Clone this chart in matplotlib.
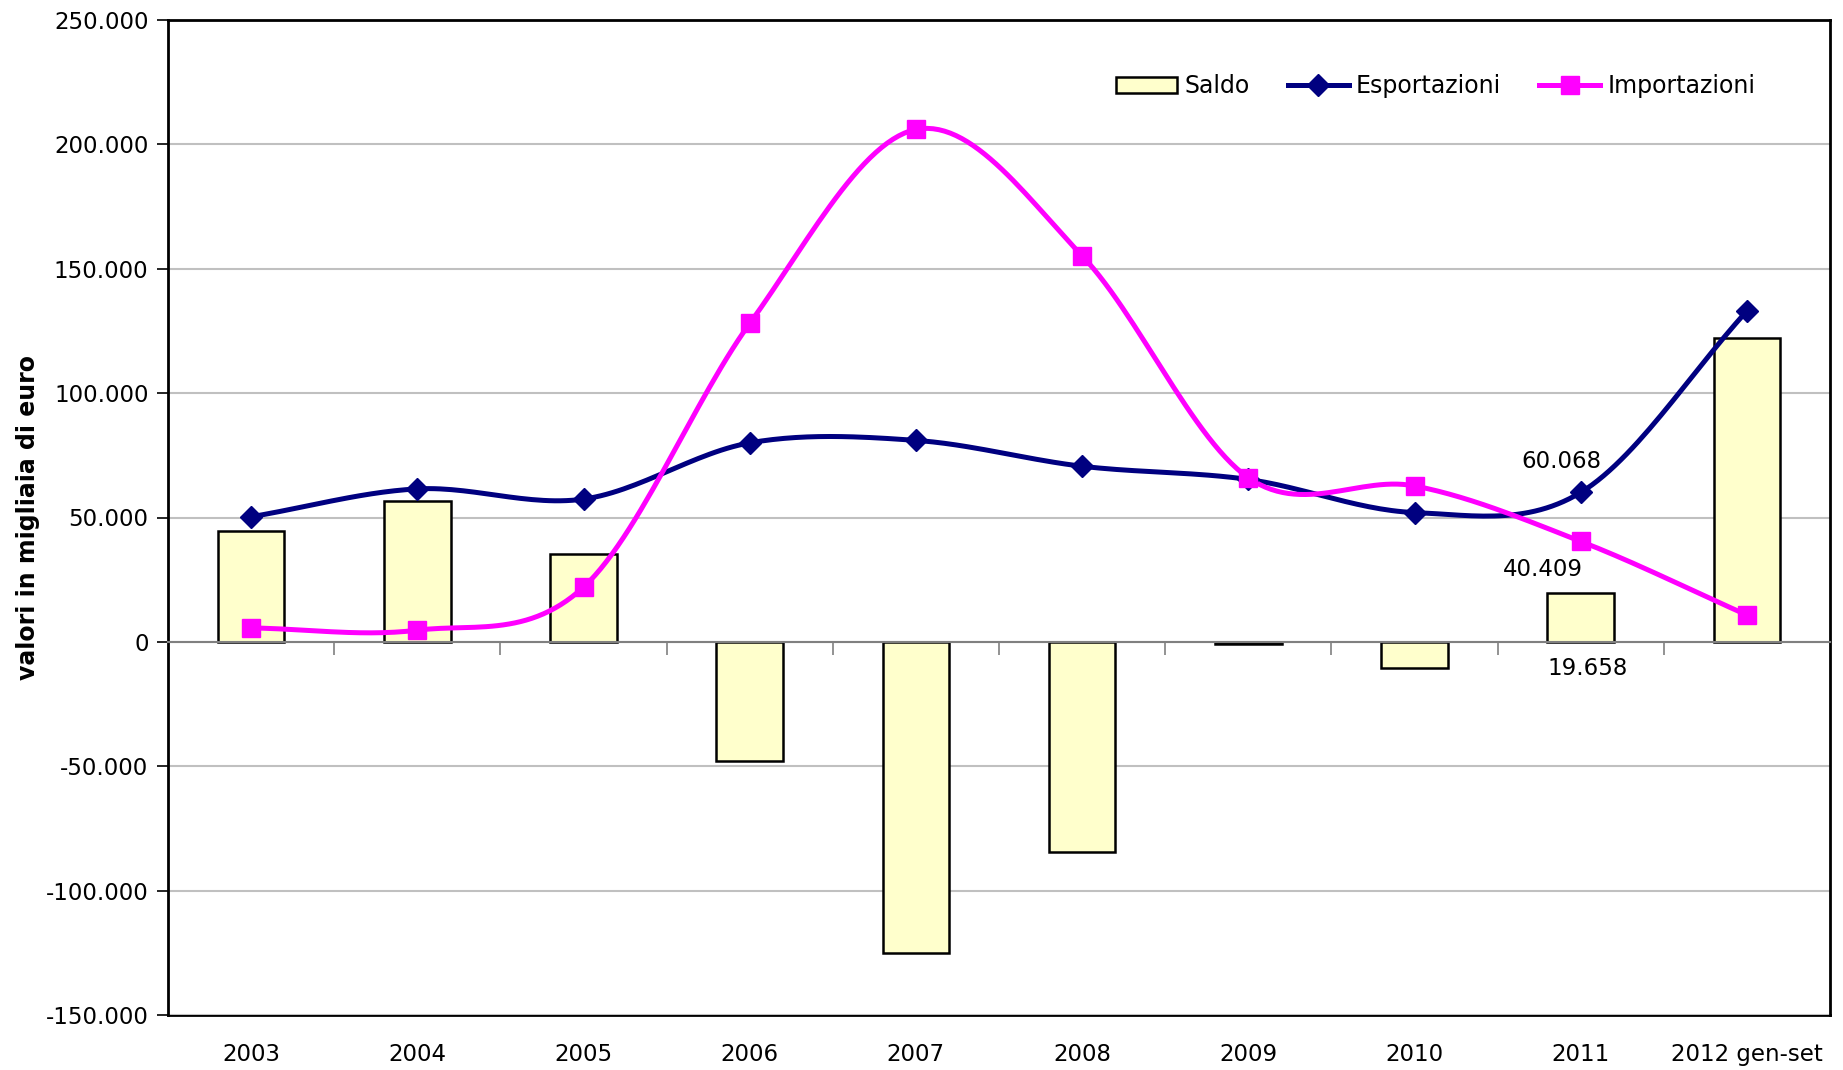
import numpy as np
import matplotlib.pyplot as plt
from matplotlib.ticker import FuncFormatter, FixedLocator

anni = ['2003', '2004', '2005', '2006', '2007', '2008', '2009', '2010', '2011', '2012 gen-set']
esportazioni = [50300, 61500, 57400, 80000, 81000, 70600, 65300, 52000, 60068, 133000]
importazioni = [5600, 4700, 22000, 128000, 206000, 155200, 66000, 62700, 40409, 10800]
saldo = [44700, 56800, 35400, -48000, -125000, -84600, -700, -10700, 19658, 122200]


def fmt_it(v, pos=None):
    return f"{v:,.0f}".replace(',', '.')


def smooth(x, y, n=30):
    # catmull-rom, come le linee "smussate" di Excel
    x = np.asarray(x, float)
    y = np.asarray(y, float)
    px = np.concatenate([[2*x[0]-x[1]], x, [2*x[-1]-x[-2]]])
    py = np.concatenate([[2*y[0]-y[1]], y, [2*y[-1]-y[-2]]])
    xs, ys = [], []
    t = np.linspace(0, 1, n)
    for i in range(1, len(px)-2):
        for p, out in ((px, xs), (py, ys)):
            p0, p1, p2, p3 = p[i-1], p[i], p[i+1], p[i+2]
            out.extend(0.5*((2*p1) + (-p0+p2)*t + (2*p0-5*p1+4*p2-p3)*t**2 + (-p0+3*p1-3*p2+p3)*t**3))
    return np.array(xs), np.array(ys)


plt.rcParams['font.family'] = ['DejaVu Sans']
fig = plt.figure(figsize=(18.43, 10.70), dpi=100)
ax = fig.add_axes([168/1843, 55/1070, 1662/1843, 995/1070])

x = np.arange(len(anni))
b = ax.bar(x, saldo, width=0.4, color='#FFFFCC', edgecolor='black', linewidth=1.8,
           label='Saldo', zorder=2)

sx, sy = smooth(x, esportazioni)
ax.plot(sx, sy, color='#000080', lw=3.6, zorder=3)
ax.plot(x, esportazioni, ls='none', marker='D', ms=11, color='#000080', zorder=4)
le, = ax.plot([], [], color='#000080', lw=3.6, marker='D', ms=11, label='Esportazioni')

sx, sy = smooth(x, importazioni)
ax.plot(sx, sy, color='#FF00FF', lw=3.6, zorder=3)
ax.plot(x, importazioni, ls='none', marker='s', ms=13, color='#FF00FF', zorder=4)
li, = ax.plot([], [], color='#FF00FF', lw=3.6, marker='s', ms=13, label='Importazioni')

ax.set_xlim(-0.5, len(anni) - 0.5)
ax.set_ylim(-150000, 250000)
ax.yaxis.set_major_locator(FixedLocator(np.arange(-150000, 250001, 50000)))
ax.yaxis.set_major_formatter(FuncFormatter(fmt_it))
ax.grid(axis='y', color='#C0C0C0', lw=1.5, zorder=0)
ax.set_axisbelow(True)
ax.tick_params(axis='y', labelsize=16.5, length=8, width=1.2, direction='out', pad=6)

# asse categorie sullo zero, con tacche tra le categorie
ax.spines['bottom'].set_position(('data', 0))
ax.spines['bottom'].set_color('#808080')
ax.spines['bottom'].set_linewidth(1.5)
ax.set_xticks(x[:-1] + 0.5)
ax.set_xticklabels([])
ax.tick_params(axis='x', length=9, width=1.2, color='#808080', direction='out')
for s in ['left', 'top', 'right']:
    ax.spines[s].set_linewidth(2)

sec = ax.secondary_xaxis(0)
sec.set_xticks(x)
sec.set_xticklabels(anni, fontsize=16.5)
sec.tick_params(length=0, pad=20)
sec.spines['bottom'].set_linewidth(2)

ax.set_ylabel('valori in migliaia di euro', fontsize=17, fontweight='bold', labelpad=4)

# etichette dati 2011
ax.annotate(fmt_it(esportazioni[8]), (x[8], esportazioni[8]), xytext=(-14, 14),
            textcoords='offset points', ha='center', va='bottom', fontsize=16.5)
ax.annotate(fmt_it(importazioni[8]), (x[8], importazioni[8]), xytext=(-27, -12),
            textcoords='offset points', ha='center', va='top', fontsize=16.5)
ax.annotate(fmt_it(saldo[8]), (x[8], 0), xytext=(5, -11),
            textcoords='offset points', ha='center', va='top', fontsize=16.5)

ax.legend(handles=[b, le, li], loc='upper right', bbox_to_anchor=(0.968, 0.967), ncol=3,
          frameon=False, fontsize=17, handlelength=2.6, columnspacing=1.6, handletextpad=0.3)

fig.savefig('out.png', dpi=100)
